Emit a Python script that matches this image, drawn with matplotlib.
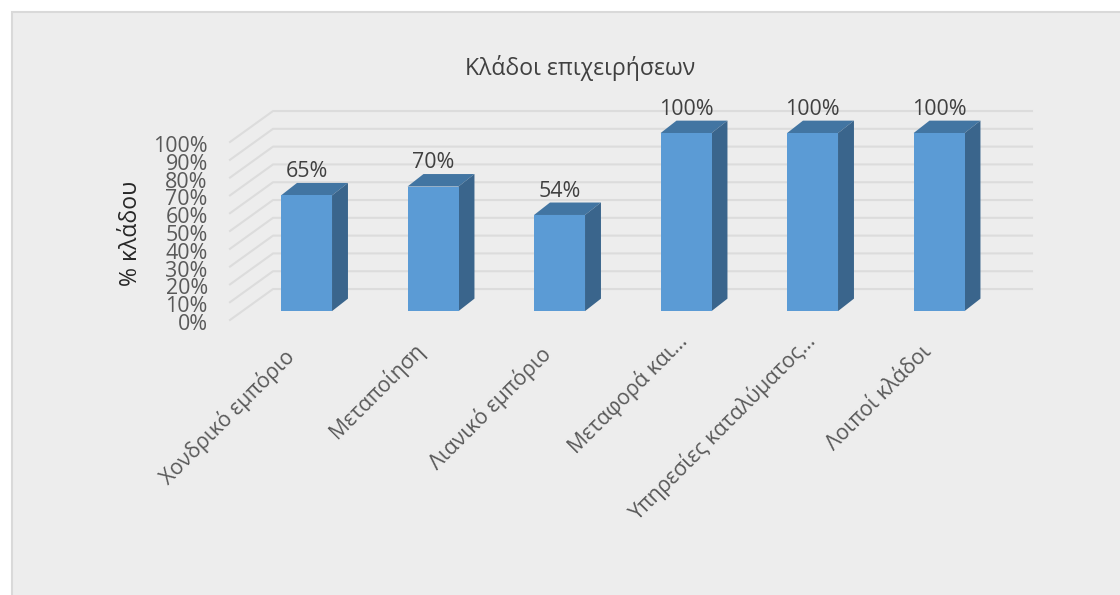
import numpy as np
import matplotlib
matplotlib.use('Agg')
import matplotlib.pyplot as plt
from matplotlib.patches import Polygon, Rectangle
from matplotlib.transforms import Affine2D

categories = ['Χονδρικό εμπόριο', 'Μεταποίηση', 'Λιανικό εμπόριο',
              'Μεταφορά και...', 'Υπηρεσίες καταλύματος...', 'Λοιποί κλάδοι']
values = [65, 70, 54, 100, 100, 100]
labels = ['65%', '70%', '54%', '100%', '100%', '100%']
yticks = [0, 10, 20, 30, 40, 50, 60, 70, 80, 90, 100]

W, H = 1120, 595
plt.rcParams['font.family'] = ['Open Sans', 'DejaVu Sans']

# depth of the fake 3D, in axis units
floor = 5
bar_w = 0.403
depth_x = 0.126
depth_y = 7
wall_x = 0.34
wall_y = 17.4

# excel does not line the slanted labels up exactly, nudge each one (pixels)
nudge_x = [-24, -20, -20, -10, -9, -18]
nudge_y = [2, 9, 5, 18, 18, 6]

fig = plt.figure(figsize=(W / 100, H / 100), dpi=100, facecolor='white')
fig.add_artist(Rectangle((11.5 / W, -0.02), 1.02, 1 - 11.5 / H + 0.02, transform=fig.transFigure,
                         facecolor='#ededed', edgecolor='#d9d9d9', linewidth=1.5, zorder=-1))

ax = fig.add_axes([230 / W, 1 - 320 / H, 759 / W, 178 / H])
ax.patch.set_visible(False)
ax.set_xlim(-0.605, 5.395)
ax.set_ylim(0, 100)
for s in ax.spines.values():
    s.set_visible(False)

# back wall and the left side
for v in yticks:
    ax.plot([-0.605, -0.605 + wall_x, 5.395 + wall_x], [v, v + wall_y, v + wall_y],
            color='#dcdcdc', lw=1.5, clip_on=False, zorder=1)

x = np.arange(len(values))
ax.bar(x, values, width=bar_w, bottom=floor, color='#5b9bd5', zorder=4, clip_on=False)
for xi, v, lab in zip(x, values, labels):
    left, right = xi - bar_w / 2, xi + bar_w / 2
    top = v + floor
    ax.add_patch(Polygon([(left, top), (right, top), (right + depth_x, top + depth_y), (left + depth_x, top + depth_y)],
                         facecolor='#4275a2', edgecolor='none', zorder=3, clip_on=False))
    ax.add_patch(Polygon([(right, floor), (right, top), (right + depth_x, top + depth_y), (right + depth_x, floor + depth_y)],
                         facecolor='#3a658c', edgecolor='none', zorder=3, clip_on=False))
    ax.text(xi, top + depth_y + 6.3, lab, ha='center', va='center', fontsize=15.4, color='#404040', zorder=5)

ax.set_yticks(yticks)
ax.set_yticklabels([str(v) + '%' for v in yticks], fontsize=15.4, color='#595959')
ax.tick_params(axis='y', length=0, pad=16)
for t in ax.get_yticklabels():
    t.set_transform(t.get_transform() + Affine2D().translate(0, -2))
ax.set_xticks(x)
ax.set_xticklabels(categories, fontsize=15.2, color='#595959', rotation=45, ha='right', va='top',
                   rotation_mode='anchor')
ax.tick_params(axis='x', length=0, pad=20)
for t, dx, dy in zip(ax.get_xticklabels(), nudge_x, nudge_y):
    t.set_transform(t.get_transform() + Affine2D().translate(dx, dy))

fig.text(580.5 / W, 1 - 68 / H, 'Κλάδοι επιχειρήσεων', ha='center', va='center', fontsize=16.6, color='#404040')
fig.text(131 / W, 1 - 233 / H, '% κλάδου', ha='center', va='center', rotation=90, fontsize=16.6, color='#262626')

fig.savefig('out.png', dpi=100, facecolor=fig.get_facecolor())
